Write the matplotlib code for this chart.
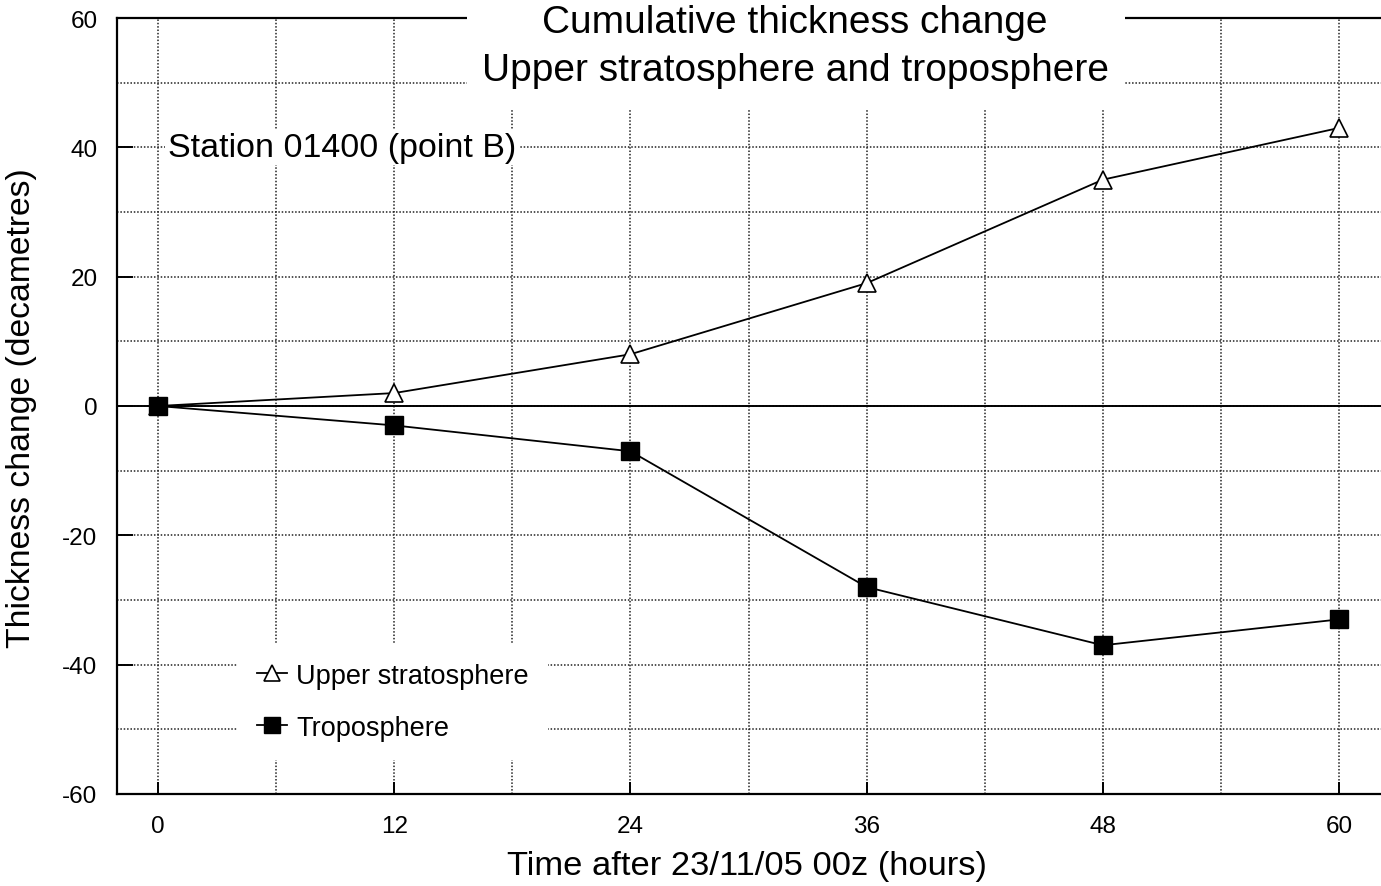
import matplotlib
matplotlib.use("Agg")
import matplotlib.pyplot as plt
from matplotlib.patches import Rectangle
from matplotlib.ticker import MultipleLocator

hours = [0, 12, 24, 36, 48, 60]
upper_strat = [0, 2, 8, 19, 35, 43]
troposphere = [0, -3, -7, -28, -37, -33]

title_lines = "Cumulative thickness change\nUpper stratosphere and troposphere"
station_text = "Station 01400 (point B)"
xlabel = "Time after 23/11/05 00z (hours)"
ylabel = "Thickness change (decametres)"
labels = ["Upper stratosphere", "Troposphere"]

plt.rcParams["axes.unicode_minus"] = False

W, H = 1381, 887
fig = plt.figure(figsize=(W / 100, H / 100), dpi=100)
ax_l, ax_r = 117 / W, 1.0
ax_b, ax_t = (H - 795) / H, (H - 19) / H
ax = fig.add_axes([ax_l, ax_b, ax_r - ax_l, ax_t - ax_b])

ax.set_xlim(-2.083, 62.13)
ax.set_ylim(-60, 60)

reg = ["Liberation Sans", "DejaVu Sans"]

ax.xaxis.set_major_locator(MultipleLocator(12))
ax.xaxis.set_minor_locator(MultipleLocator(6))
ax.yaxis.set_major_locator(MultipleLocator(20))
ax.yaxis.set_minor_locator(MultipleLocator(10))
ax.tick_params(axis="x", which="major", direction="in", length=8.6, width=1.4, pad=15, labelsize=17.5)
ax.tick_params(axis="y", which="major", direction="in", length=11.5, width=1.4, pad=14, labelsize=17.5)
ax.tick_params(which="minor", length=0)
for lab in ax.get_xticklabels() + ax.get_yticklabels():
    lab.set_family(reg)

ax.grid(True, which="both", color="#222222", linestyle=(0, (1, 1.2)), linewidth=1.1, zorder=0)
ax.set_axisbelow(True)
for s in ["left", "bottom", "top"]:
    ax.spines[s].set_linewidth(1.6)
ax.spines["right"].set_visible(False)

ax.axhline(0, color="black", linewidth=1.4, zorder=1)

ax.plot(hours, upper_strat, color="black", linewidth=1.3, marker="^", markersize=13,
        markerfacecolor="white", markeredgecolor="black", markeredgewidth=1.2,
        label=labels[0], zorder=4)
ax.plot(hours, troposphere, color="black", linewidth=1.3, marker="s", markersize=13,
        markerfacecolor="black", markeredgecolor="black", label=labels[1], zorder=4)

# title box (covers top spine and grid)
tb_x0 = (467 - 117) / (W - 117)
tb_x1 = (1125 - 117) / (W - 117)
tb_y0 = (795 - 110) / 776
ax.add_patch(Rectangle((tb_x0, tb_y0), tb_x1 - tb_x0, 1.05 - tb_y0, transform=ax.transAxes,
                       facecolor="white", edgecolor="none", zorder=6, clip_on=False))
ax.text((795 - 117) / (W - 117), 1.0 + 14 / 776, title_lines, transform=ax.transAxes,
        ha="center", va="top", fontsize=28, family=reg, linespacing=1.44, zorder=7)

ax.text((168 - 117) / (W - 117), (795 - 148) / 776, station_text, transform=ax.transAxes,
        ha="left", va="center", fontsize=24.5, family=reg, zorder=7,
        bbox=dict(facecolor="white", edgecolor="none", pad=2))

leg = ax.legend(loc="upper left", bbox_to_anchor=((238 - 117) / (W - 117), (795 - 645) / 776),
                frameon=True, fancybox=False, framealpha=1, facecolor="white", edgecolor="none",
                prop={"family": reg, "size": 19.5}, handlelength=1.1, handletextpad=0.35,
                labelspacing=0.95, borderpad=0.7, borderaxespad=0, markerscale=0.85)
leg.set_zorder(8)

fig.text((505 + 988) / 2 / W, 1 - 867 / H, xlabel, ha="center", va="center",
         fontsize=24.8, family=reg)
fig.text(22 / W, 1 - 408 / H, ylabel, ha="center", va="center", rotation=90,
         fontsize=24.3, family=reg)

fig.savefig("out.png", dpi=100)
